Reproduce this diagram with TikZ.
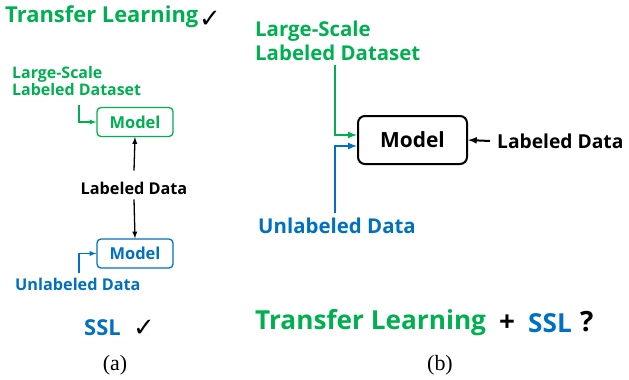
\documentclass[tikz,border=0pt]{standalone}
\usepackage{fontspec}
\usepackage{tikz}
\usepackage{xcolor}
\usetikzlibrary{arrows.meta}
\setmainfont{Open Sans}
\newfontfamily\symfont{DejaVu Sans}
\newfontfamily\capfont{Liberation Serif}
\definecolor{tlgreen}{HTML}{00B050}
\definecolor{sslblue}{HTML}{0070C0}
\newcommand{\fs}[1]{\fontsize{#1}{#1}\selectfont\bfseries}

\begin{document}
\begin{tikzpicture}[x=1bp,y=-1bp,
    modelbox/.style={draw, rounded corners=4bp, line width=1.3bp, minimum width=76bp, minimum height=29bp, inner sep=0pt},
    bigbox/.style={draw, rounded corners=7bp, line width=2bp, minimum width=109bp, minimum height=48bp, inner sep=0pt}]
    \useasboundingbox (0,0) rectangle (629,379);
    % (a)
    \node[anchor=west, inner sep=0pt, tlgreen] (tla) at (5,17) {\fs{22}Transfer Learning};
    \node[anchor=west, inner sep=0pt] (ticka) at (199,19) {\symfont\bfseries\fontsize{26}{26}\selectfont ✓};
    \node[anchor=west, inner sep=0pt, align=left, tlgreen] (lsda) at (12,81) {\fs{16}Large-Scale\\[1bp]\fs{16}Labeled Dataset};
    \node[modelbox, tlgreen] (gm) at (135,122) {\fs{16.5}Model};
    \node[inner sep=0pt] (lda) at (134,188) {\fs{16.3}Labeled Data};
    \node[modelbox, sslblue] (bm) at (135,253.5) {\fs{16.5}Model};
    \node[anchor=west, inner sep=0pt, sslblue] (uda) at (15,284) {\fs{16.3}Unlabeled Data};
    \node[anchor=west, inner sep=0pt, sslblue] (ssla) at (84,328) {\fs{22}SSL};
    \node[anchor=west, inner sep=0pt] (tickb) at (133,328) {\symfont\bfseries\fontsize{26}{26}\selectfont ✓};
    \node[inner sep=0pt] (capa) at (115,365) {\capfont\fontsize{22}{22}\selectfont (a)};
    \coordinate (ga) at (79,105);
    \coordinate (ba) at (79,273);
    \draw[-latex, tlgreen, line width=1.3bp] (ga) |- (gm.west);
    \draw[-latex, sslblue, line width=1.3bp] (ba) |- (bm.west);
    \draw[-latex, line width=1.3bp] ([yshift=11bp]lda.north) -- (gm.south);
    \draw[-latex, line width=1.3bp] ([yshift=-5bp]lda.south) -- (bm.north);
    % (b)
    \node[anchor=west, inner sep=0pt, align=left, tlgreen] (lsdb) at (255,41) {\fs{20.5}Large-Scale\\[2bp]\fs{20.5}Labeled Dataset};
    \node[bigbox] (m) at (412.5,140) {\fs{21}Model};
    \node[anchor=west, inner sep=0pt] (ldb) at (497,141) {\fs{19.3}Labeled Data};
    \node[anchor=west, inner sep=0pt, sslblue] (udb) at (258,226) {\fs{20.5}Unlabeled Data};
    \coordinate (gb) at (335,65);
    \coordinate (bb) at (335,213);
    \draw[-latex, tlgreen, line width=2bp] (gb) |- ([yshift=5bp]m.west);
    \draw[-latex, sslblue, line width=2bp] (bb) |- ([yshift=-6bp]m.west);
    \draw[-latex, line width=2bp] ([xshift=-7bp]ldb.west) -- (m.east);
    \node[anchor=west, inner sep=0pt, tlgreen] (tlb) at (255,323) {\fs{26.3}Transfer Learning};
    \node[anchor=center, inner sep=0pt] (plus) at (507,323) {\fs{28}+};
    \node[anchor=west, inner sep=0pt, sslblue] (sslb) at (528,323) {\fs{26.3}SSL};
    \node[anchor=west, inner sep=0pt] (qm) at (580,322) {\fs{28}?};
    \node[inner sep=0pt] (capb) at (440,365) {\capfont\fontsize{22}{22}\selectfont (b)};
\end{tikzpicture}
\end{document}
